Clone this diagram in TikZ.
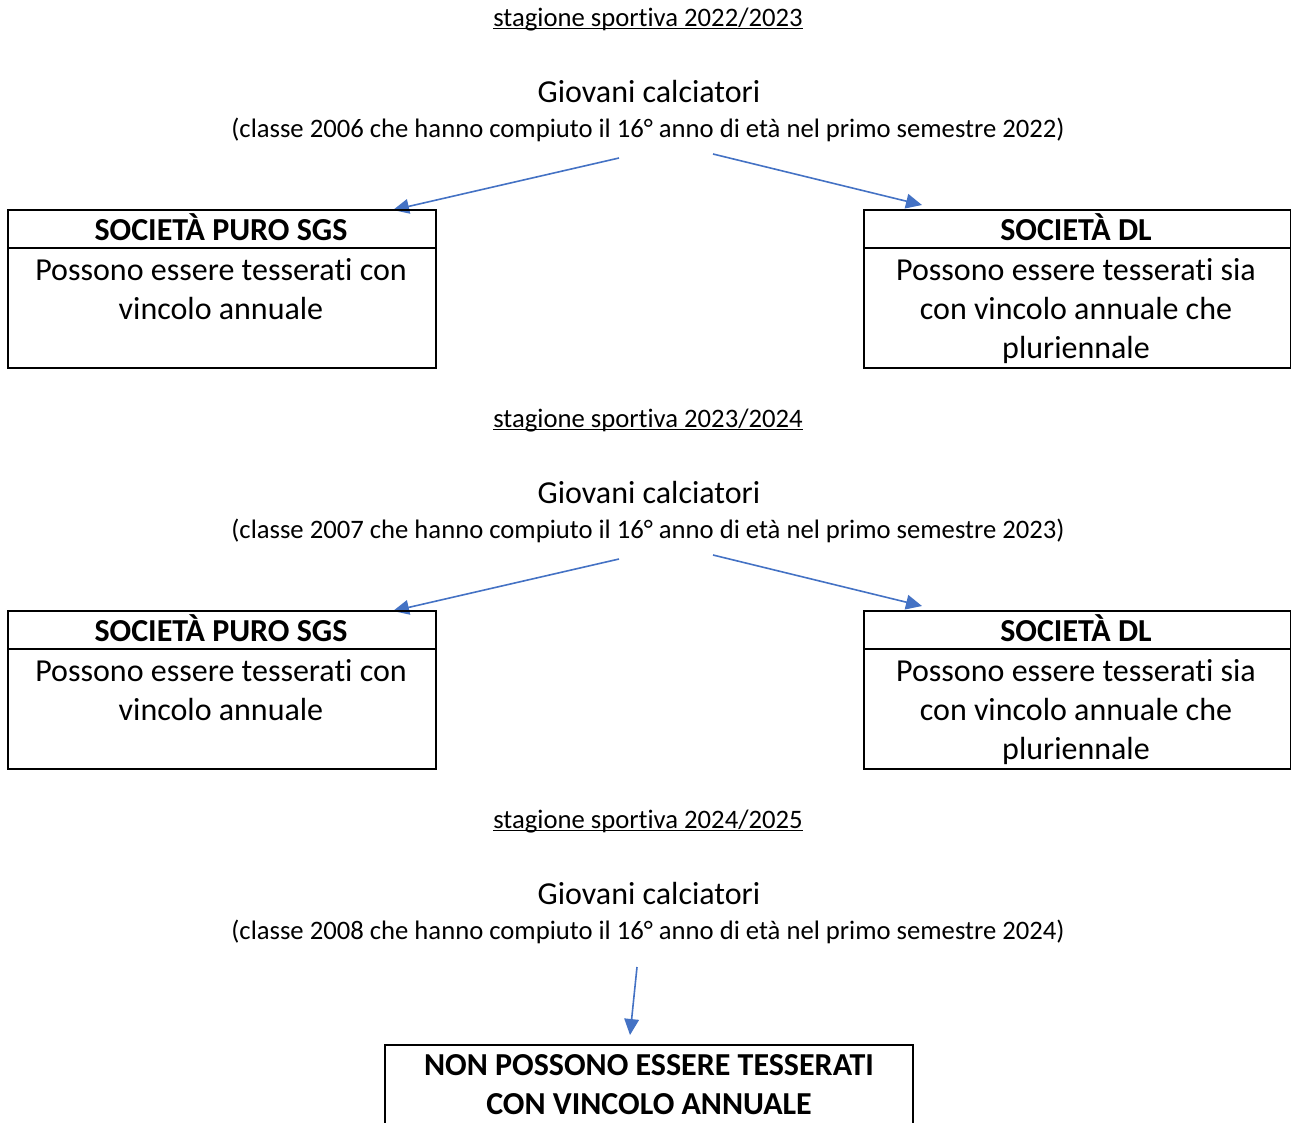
\documentclass[tikz,border=0pt]{standalone}
\usepackage{fontspec}
\setmainfont{Carlito}[Ligatures=NoCommon]
\usetikzlibrary{arrows.meta}
\definecolor{arrowblue}{HTML}{4472C4}
\tikzset{
  x=0.75pt, y=-0.75pt,
  season/.style={inner sep=0pt, anchor=base, font=\fontsize{20}{24}\selectfont},
  giovani/.style={inner sep=0pt, anchor=base, font=\fontsize{24}{29.25}\selectfont},
  sub/.style={inner sep=0pt, anchor=base, font=\fontsize{20}{24}\selectfont},
  boxframe/.style={draw=black, line width=1.5pt},
  head/.style={inner sep=0pt, anchor=base, font=\fontsize{24}{29.25}\selectfont\bfseries},
  body/.style={inner sep=0pt, anchor=base, font=\fontsize{24}{29.25}\selectfont},
  uline/.style={draw=black, line width=1pt},
  conn/.style={draw=arrowblue, line width=1.2pt, -{Triangle[length=12pt,width=11pt]}},
}
% #1 = vertical offset (px), #2 = suffix, #3 = season, #4 = classe, #5 = semestre year
\newcommand{\seasonblock}[5]{%
  \node[season] (s#2) at (648,{26+#1}) {stagione sportiva #3};
  \draw[uline] ([yshift=-2pt]s#2.base west) -- ([yshift=-2pt]s#2.base east);
  \node[giovani] (g#2) at (649,{102+#1}) {Giovani calciatori};
  \node[sub] (c#2) at (648,{137+#1}) {(classe #4 che hanno compiuto il 16° anno di età nel primo semestre #5)};
}
\newcommand{\twoboxes}[2]{%
  \coordinate (ls#2) at (619,{158+#1});
  \coordinate (le#2) at (393,{210+#1});
  \coordinate (rs#2) at (713,{154+#1});
  \coordinate (re#2) at (922,{205+#1});
  \draw[conn] (ls#2) -- (le#2);
  \draw[conn] (rs#2) -- (re#2);
  \node[boxframe, anchor=north west, minimum width=321pt, minimum height=118.5pt, inner sep=0pt] (L#2) at (7,{209+#1}) {};
  \draw[boxframe] (L#2.west |- 0,{248+#1}) -- (L#2.east |- 0,{248+#1});
  \node[head] (Lh#2) at (221,{240+#1}) {SOCIETÀ PURO SGS};
  \node[body] (Lb#2a) at (221,{280+#1}) {Possono essere tesserati con};
  \node[body] (Lb#2b) at (221,{319+#1}) {vincolo annuale};
  \node[boxframe, anchor=north west, minimum width=320.25pt, minimum height=118.5pt, inner sep=0pt] (R#2) at (863,{209+#1}) {};
  \draw[boxframe] (R#2.west |- 0,{248+#1}) -- (R#2.east |- 0,{248+#1});
  \node[head] (Rh#2) at (1076,{240+#1}) {SOCIETÀ DL};
  \node[body] (Rb#2a) at (1076,{280+#1}) {Possono essere tesserati sia};
  \node[body] (Rb#2b) at (1076,{319+#1}) {con vincolo annuale che};
  \node[body] (Rb#2c) at (1076,{358+#1}) {pluriennale};
}
\begin{document}
\begin{tikzpicture}
\useasboundingbox (0,0) rectangle (1291,1122);
\seasonblock{0}{1}{2022/2023}{2006}{2022}
\twoboxes{0}{1}
\seasonblock{401}{2}{2023/2024}{2007}{2023}
\twoboxes{401}{2}
\seasonblock{802}{3}{2024/2025}{2008}{2024}
\coordinate (ds3) at (637,967);
\coordinate (de3) at (630,1035);
\draw[conn] (ds3) -- (de3);
\draw[boxframe] (385,1135) -- (385,1045) -- (913,1045) -- (913,1135);
\node[head] (N3a) at (649,1075) {NON POSSONO ESSERE TESSERATI};
\node[head] (N3b) at (649,1114) {CON VINCOLO ANNUALE};
\end{tikzpicture}
\end{document}
